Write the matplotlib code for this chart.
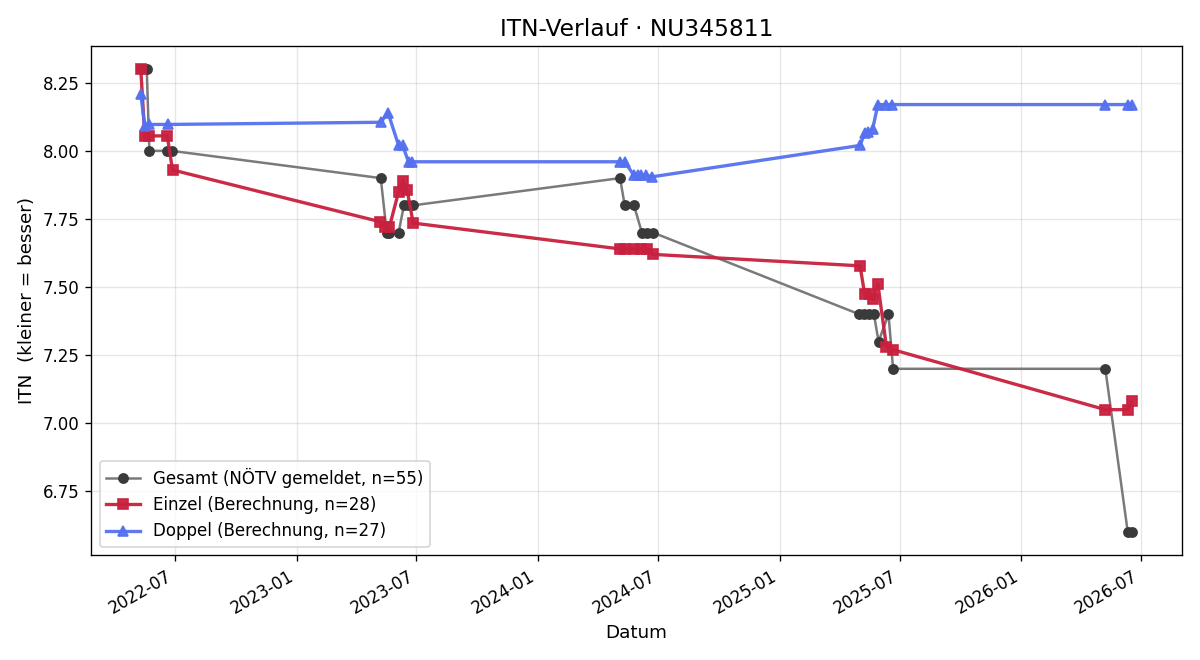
import matplotlib
matplotlib.use("Agg")
import matplotlib.pyplot as plt
import matplotlib.dates as mdates
import pandas as pd

# Gesamt (NÖTV gemeldet)
gesamt_dates = ['2022-05-10', '2022-05-19', '2022-05-23', '2022-06-18', '2022-06-26',
                '2023-05-08', '2023-05-17', '2023-05-21', '2023-06-04', '2023-06-12', '2023-06-18', '2023-06-26',
                '2024-05-04', '2024-05-11', '2024-05-25', '2024-06-06', '2024-06-14', '2024-06-23',
                '2025-05-01', '2025-05-08', '2025-05-15', '2025-05-23', '2025-05-30', '2025-06-14', '2025-06-21',
                '2026-05-08', '2026-06-11', '2026-06-18']
gesamt_itn = [8.3, 8.3, 8.0, 8.0, 8.0,
              7.9, 7.7, 7.7, 7.7, 7.8, 7.8, 7.8,
              7.9, 7.8, 7.8, 7.7, 7.7, 7.7,
              7.4, 7.4, 7.4, 7.4, 7.3, 7.4, 7.2,
              7.2, 6.6, 6.6]

# Einzel (Berechnung)
einzel_dates = ['2022-05-10', '2022-05-16', '2022-05-23', '2022-06-19', '2022-06-27',
                '2023-05-07', '2023-05-15', '2023-05-21', '2023-06-04', '2023-06-10', '2023-06-17', '2023-06-26',
                '2024-05-04', '2024-05-11', '2024-05-25', '2024-06-05', '2024-06-14', '2024-06-23',
                '2025-05-02', '2025-05-09', '2025-05-17', '2025-05-22', '2025-05-29', '2025-06-11', '2025-06-21',
                '2026-05-08', '2026-06-11', '2026-06-17']
einzel_itn = [8.30, 8.055, 8.055, 8.055, 7.93,
              7.74, 7.72, 7.72, 7.85, 7.89, 7.855, 7.735,
              7.64, 7.64, 7.64, 7.64, 7.64, 7.62,
              7.578, 7.474, 7.474, 7.455, 7.51, 7.28, 7.27,
              7.05, 7.05, 7.08]

# Doppel (Berechnung)
doppel_dates = ['2022-05-10', '2022-05-16', '2022-05-23', '2022-06-20',
                '2023-05-08', '2023-05-19', '2023-06-04', '2023-06-10', '2023-06-19', '2023-06-25',
                '2024-05-04', '2024-05-11', '2024-05-25', '2024-05-31', '2024-06-05', '2024-06-12', '2024-06-22',
                '2025-05-02', '2025-05-09', '2025-05-14', '2025-05-21', '2025-05-29', '2025-06-11', '2025-06-20',
                '2026-05-08', '2026-06-11', '2026-06-17']
doppel_itn = [8.21, 8.09, 8.097, 8.097,
              8.105, 8.14, 8.02, 8.02, 7.96, 7.96,
              7.96, 7.96, 7.91, 7.91, 7.91, 7.91, 7.905,
              8.02, 8.065, 8.07, 8.08, 8.17, 8.17, 8.17,
              8.17, 8.17, 8.17]

fig, ax = plt.subplots(figsize=(10, 5.5), dpi=120)

ax.plot(pd.to_datetime(gesamt_dates), gesamt_itn, color='#7a7a7a', lw=1.5,
        marker='o', ms=5.5, mfc='#3a3a3a', mec='#3a3a3a',
        label='Gesamt (NÖTV gemeldet, n=55)')
ax.plot(pd.to_datetime(einzel_dates), einzel_itn, color='#c8203e', lw=2,
        marker='s', ms=6.5, alpha=0.95, label='Einzel (Berechnung, n=28)')
ax.plot(pd.to_datetime(doppel_dates), doppel_itn, color='#5571f0', lw=2,
        marker='^', ms=6.5, alpha=0.95, label='Doppel (Berechnung, n=27)')

ax.set_title('ITN-Verlauf · NU345811', fontsize=14)
ax.set_xlabel('Datum', fontsize=11)
ax.set_ylabel('ITN  (kleiner = besser)', fontsize=11)
ax.grid(True, alpha=0.3)
ax.xaxis.set_major_locator(mdates.MonthLocator(bymonth=[1, 7]))
ax.xaxis.set_major_formatter(mdates.DateFormatter('%Y-%m'))
ax.legend(loc='lower left', fontsize=10)
fig.autofmt_xdate()

plt.tight_layout()
plt.savefig('out.png', dpi=120)
